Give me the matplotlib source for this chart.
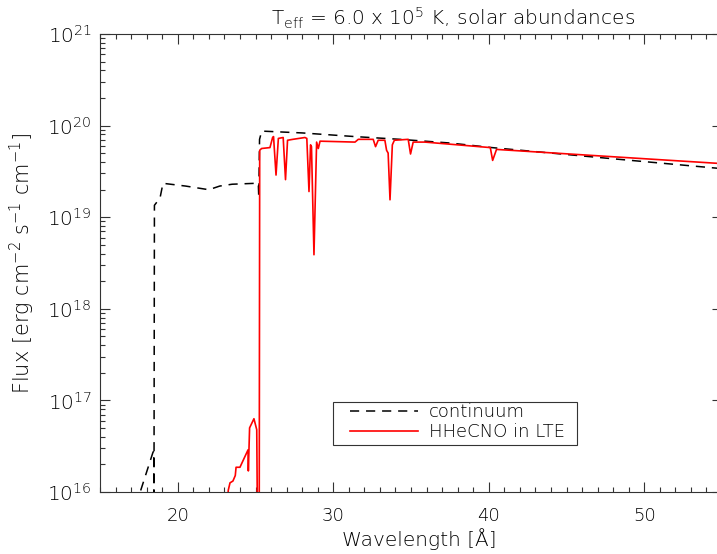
import numpy as np
from matplotlib import pyplot as plt
from matplotlib.patches import Rectangle
from matplotlib.ticker import MultipleLocator, LogLocator, LogFormatterMathtext

# continuum (black dashed), wavelength [A] and log10 flux
cont_wave = [17.30, 18.40, 18.46, 18.47, 18.50, 18.86, 19.05, 20.5, 22.0, 22.7,
             23.5, 25.0, 25.18, 25.21, 25.26, 25.40, 28.0, 31.4, 34.3, 37.5,
             40.2, 47.2, 55.0]
cont_logf = [15.85, 16.43, 16.45, 15.80, 19.13, 19.21, 19.37, 19.34, 19.30, 19.34,
             19.36, 19.37, 19.37, 19.22, 19.85, 19.94, 19.92, 19.88, 19.85, 19.81,
             19.76, 19.65, 19.53]

# HHeCNO LTE model (red)
lte_wave = [23.20, 23.25, 23.36, 23.55, 23.70, 23.75, 24.00, 24.52, 24.54, 24.62,
            24.90, 25.08, 25.12, 25.24, 25.27, 25.39, 25.93, 26.10, 26.16, 26.32,
            26.47, 26.78, 26.93, 27.06, 27.40, 28.18, 28.30, 28.44, 28.54, 28.60,
            28.76, 28.93, 29.04, 29.15, 31.40, 31.61, 32.57, 32.72, 32.89, 33.32,
            33.43, 33.53, 33.65, 33.80, 33.93, 34.82, 34.97, 35.14, 35.90, 40.10,
            40.25, 40.50, 55.0]
lte_logf = [15.90, 16.02, 16.10, 16.12, 16.18, 16.27, 16.27, 16.46, 16.23, 16.70,
            16.80, 16.68, 15.80, 15.80, 19.73, 19.75, 19.76, 19.87, 19.88, 19.46,
            19.86, 19.87, 19.41, 19.84, 19.85, 19.87, 19.86, 19.28, 19.79, 19.77,
            18.59, 19.82, 19.75, 19.83, 19.82, 19.85, 19.85, 19.77, 19.84, 19.84,
            19.73, 19.70, 19.19, 19.79, 19.84, 19.85, 19.69, 19.82, 19.82, 19.76,
            19.62, 19.74, 19.585]

plt.rcParams['font.family'] = ['DejaVu Sans']
plt.rcParams['font.weight'] = 'light'
plt.rcParams['axes.labelweight'] = 'light'
plt.rcParams['axes.titleweight'] = 'light'
plt.rcParams['mathtext.fontset'] = 'custom'
plt.rcParams['mathtext.rm'] = 'DejaVu Sans:light'
plt.rcParams['mathtext.it'] = 'DejaVu Sans:light'
plt.rcParams['mathtext.default'] = 'regular'
txt = 'black'

fig = plt.figure(figsize=(7.17, 5.54), dpi=100)
ax = fig.add_axes([100 / 717, 1 - 492 / 554, 622 / 717, 458 / 554])

ax.plot(cont_wave, 10 ** np.array(cont_logf), color='black', lw=1.1,
        dashes=(6, 4.5), label='continuum')
ax.plot(lte_wave, 10 ** np.array(lte_logf), color='red', lw=1.2,
        label='HHeCNO in LTE')

ax.set_yscale('log')
ax.set_xlim(15, 55)
ax.set_ylim(1e16, 1e21)

ax.xaxis.set_major_locator(MultipleLocator(10))
ax.xaxis.set_minor_locator(MultipleLocator(1))
ax.yaxis.set_major_locator(LogLocator(base=10, numticks=10))
ax.yaxis.set_minor_locator(LogLocator(base=10, subs=np.arange(2, 10), numticks=20))
ax.yaxis.set_major_formatter(LogFormatterMathtext())

ax.tick_params(which='both', direction='in', top=True, right=True,
               colors='#333333', labelcolor=txt, labelsize=13, width=0.8)
ax.tick_params(axis='y', labelsize=14.5)
ax.tick_params(which='major', length=7.5)
ax.tick_params(which='minor', length=3.5)
ax.tick_params(axis='x', which='major', pad=11)
ax.tick_params(axis='y', which='major', pad=6)
for s in ax.spines.values():
    s.set_linewidth(0.8)
    s.set_color('#333333')

ax.set_xlabel('Wavelength [Å]', fontsize=14.5, color=txt, labelpad=2, x=0.513)
ax.set_ylabel('Flux [erg cm$^{-2}$ s$^{-1}$ cm$^{-1}$]', fontsize=15, color=txt,
              labelpad=7)
ax.set_title('T$_{eff}$ = 6.0 x 10$^{5}$ K, solar abundances', fontsize=14.5,
             color=txt, pad=6, x=0.5675)

# legend: frame drawn separately so the inner padding matches the original
ax.add_patch(Rectangle((0.3746, 0.1026), 0.3923, 0.0939, transform=ax.transAxes,
                       facecolor='white', edgecolor='#333333', lw=0.8, zorder=4))
leg = ax.legend(loc='upper left', bbox_to_anchor=(0.402, 0.194), fontsize=13,
                frameon=False, handlelength=3.75, handletextpad=0.6,
                borderpad=0, labelspacing=0.12, borderaxespad=0)
leg.set_zorder(5)
for t in leg.get_texts():
    t.set_color(txt)

fig.savefig('out.png', dpi=100)
